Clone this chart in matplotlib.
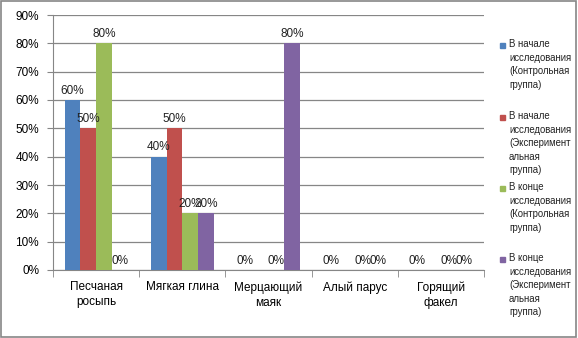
import matplotlib
matplotlib.use('Agg')
import matplotlib.pyplot as plt
import numpy as np
from matplotlib.patches import Rectangle

plt.rcParams['font.family'] = ['Liberation Sans', 'DejaVu Sans']

categories = ['Песчаная\nросыпь', 'Мягкая глина', 'Мерцающий\nмаяк', 'Алый парус', 'Горящий\nфакел']
series_names = [
    'В начале\nисследования\n(Контрольная\nгруппа)',
    'В начале\nисследования\n(Эксперимент\nальная\nгруппа)',
    'В конце\nисследования\n(Контрольная\nгруппа)',
    'В конце\nисследования\n(Эксперимент\nальная\nгруппа)',
]
start_control = [60, 40, 0, 0, 0]
start_exp = [50, 50, np.nan, np.nan, np.nan]
end_control = [80, 20, 0, 0, 0]
end_exp = [0, 20, 80, 0, 0]
colors = ['#4F81BD', '#C0504D', '#9BBB59', '#8064A2']

series = [start_control, start_exp, end_control, end_exp]

fig = plt.figure(figsize=(5.78, 3.38), dpi=100)
ax = fig.add_axes([53 / 578, 68 / 338, 431 / 578, 255 / 338])

x = np.arange(len(categories))
bw = 1 / 5.5
grey = '#868686'
for i, vals in enumerate(series):
    pos = x + (i - 1.5) * bw
    ax.bar(pos, vals, width=bw, color=colors[i], zorder=3)
    for p, v in zip(pos, vals):
        if np.isnan(v):
            continue
        ax.text(p, v + 1.2, f'{v:.0f}%', ha='center', va='bottom', fontsize=8.5, color='#222222', zorder=4)

ax.set_xlim(-0.5, len(categories) - 0.5)
ax.set_ylim(0, 90)
ax.set_yticks(range(0, 91, 10))
ax.set_yticklabels([f'{t}%' for t in range(0, 91, 10)], fontsize=8.5)
ax.yaxis.grid(True, color=grey, linewidth=0.9, zorder=0)
ax.set_xticks(x)
ax.set_xticklabels(categories, fontsize=8.5, linespacing=1.35)
ax.set_xticks(np.arange(-0.5, len(categories)), minor=True)
ax.tick_params(axis='x', which='major', length=0, pad=8)
ax.tick_params(axis='x', which='minor', length=5, color=grey, direction='out')
ax.tick_params(axis='y', length=4, color=grey, pad=6)
for s in ['top', 'right']:
    ax.spines[s].set_visible(False)
for s in ['left', 'bottom']:
    ax.spines[s].set_color(grey)

# legend, placed like the original
tops = [45, 117, 188, 259]
for name, c, t in zip(series_names, colors, tops):
    fig.patches.append(Rectangle((500 / 578, 1 - (t + 2.5) / 338), 5 / 578, 5 / 338,
                                 transform=fig.transFigure, color=c))
    fig.text(509 / 578, 1 - (t - 6) / 338, name, fontsize=6.9, va='top', ha='left',
             linespacing=1.45, color='#222222')

fig.patches.append(Rectangle((0.002, 0.003), 0.995, 0.993, transform=fig.transFigure,
                             fill=False, edgecolor=grey, linewidth=1.2))

fig.savefig('out.png', dpi=100)
